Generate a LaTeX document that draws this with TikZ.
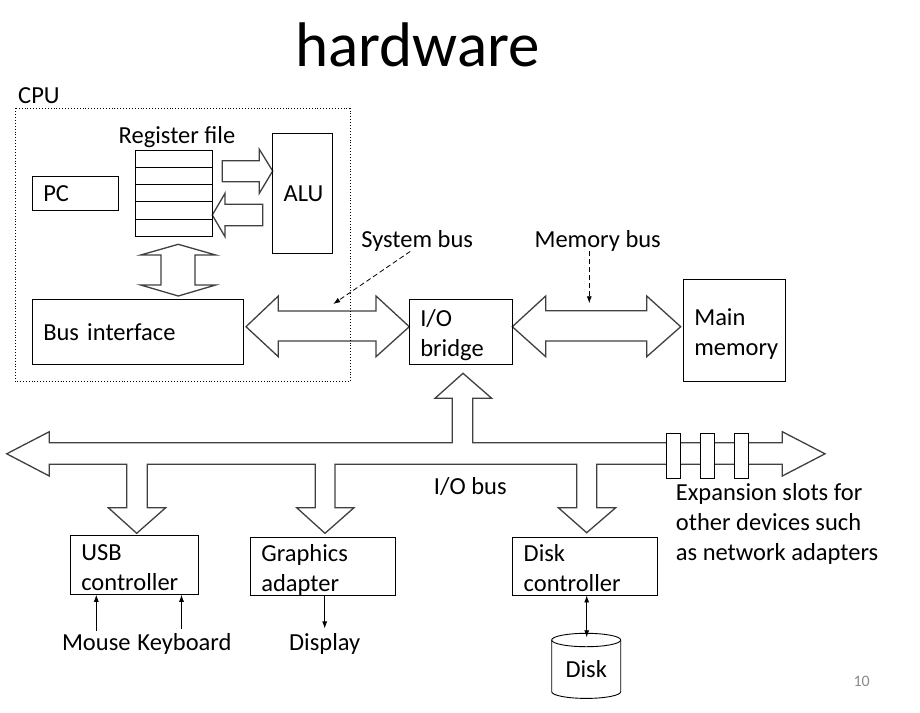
\documentclass[tikz,border=0pt]{standalone}
\usepackage{fontspec}
\setmainfont{Carlito}
\usetikzlibrary{arrows.meta,calc}

\definecolor{busgray}{RGB}{64,64,64}
\definecolor{pagegray}{RGB}{140,140,140}

\tikzset{
	box/.style={draw, line width=0.9pt, inner xsep=11pt, inner ysep=0pt, align=left},
	twoline/.style={text height=20pt, text depth=30pt},
	bus/.style={draw=busgray, line width=1.3pt, fill=white, line join=miter},
	slot/.style={draw, line width=0.9pt, fill=white, minimum width=14pt, minimum height=45pt, inner sep=0pt},
	lbl/.style={inner sep=0pt},
	hint/.style={dash pattern=on 5pt off 3pt, line width=0.8pt, -{Latex[length=7pt,width=5pt]}},
	wire/.style={line width=0.8pt, -{Latex[length=7pt,width=5pt]}},
}

\begin{document}
\begin{tikzpicture}[x=1pt, y=-1pt, font=\fontsize{24.5}{30}\selectfont]
	\fill[white] (0,0) rectangle (920,712);
	\useasboundingbox (0,0) rectangle (920,712);

	\node[lbl, anchor=base, font=\fontsize{63}{76}\selectfont] (title) at (417.5,66) {hardware};

	% fat buses first, boxes on top
	\draw[bus] (222.3,160.7) -- (259.3,160.7) -- (259.3,149.3) -- (272.7,171) -- (259.3,193.3) -- (259.3,181.7) -- (222.3,181.7) -- cycle;
	\draw[bus] (262.7,204.3) -- (225,204.3) -- (225,193.3) -- (212.3,215) -- (225,236.7) -- (225,225.7) -- (262.7,225.7) -- cycle;
	\draw[bus] (178.3,244.3) -- (215.7,255) -- (195,255) -- (195,285) -- (215.7,285) -- (178.3,296) -- (140.7,285) -- (161,285) -- (161,255) -- (140.7,255) -- cycle;
	\draw[bus] (246,326.7) -- (278.3,296) -- (278.3,311) -- (376,311) -- (376,296) -- (409.3,326.7) -- (376,356.7) -- (376,341) -- (278.3,341) -- (278.3,356.7) -- cycle;
	\draw[bus] (512.3,326.7) -- (545.7,296) -- (545.7,310.7) -- (646.7,310.7) -- (646.7,296) -- (680.7,326.7) -- (646.7,356.7) -- (646.7,341) -- (545.7,341) -- (545.7,356.7) -- cycle;
	\draw[bus] (6.7,453.8) -- (49.3,431.7) -- (49.3,442.7) -- (452.3,442.7) -- (452.3,398.3) -- (435,398.3) -- (463,373.3) -- (491.7,398.3) -- (472.7,398.3) -- (472.7,442.7)
		-- (782.3,442.7) -- (782.3,431.7) -- (825,453.8) -- (782.3,476) -- (782.3,464.3)
		-- (596.7,464.3) -- (596.7,507.7) -- (615.7,507.7) -- (586.7,532.7) -- (558.3,507.7) -- (576.7,507.7) -- (576.7,464.3)
		-- (335,464.3) -- (335,507.7) -- (354,507.7) -- (325,533.3) -- (296.7,507.7) -- (315.3,507.7) -- (315.3,464.3)
		-- (147.3,464.3) -- (147.3,507.7) -- (165.7,507.7) -- (136.7,533.3) -- (108.3,507.7) -- (126.7,507.7) -- (126.7,464.3)
		-- (49.3,464.3) -- (49.3,476) -- cycle;
	\foreach \n/\x in {1/673.7, 2/707.5, 3/741.5}
		\node[slot] (slot\n) at (\x,455.8) {};

	% CPU
	\node[lbl, anchor=base west] (cpu) at (18,103) {CPU};
	\draw[dotted, line width=0.9pt] (15,108.3) rectangle (350,381.7);
	\node[box, text width=64pt, minimum height=33.3pt] (pc) at (75.3,193.3) {PC};
	\node[draw, line width=0.9pt, minimum width=77.3pt, minimum height=85.3pt] (regfile) at (173.7,193.3) {};
	\foreach \k in {1,...,4}
		\draw[line width=0.9pt] ($(regfile.north west)!\k/5!(regfile.south west)$) -- ($(regfile.north east)!\k/5!(regfile.south east)$);
	\node[lbl, anchor=base] (regtitle) at (177,143.3) {Register file};
	\node[box, align=center, text width=37.6pt, minimum height=120pt] (alu) at (302.5,193.3) {ALU};
	\node[box, text width=189pt, minimum height=64.7pt] (busif) at (137.8,331.7) {Bus interface};

	\node[box, twoline, text width=81pt, minimum height=65pt] (bridge) at (460.8,331.8) {I/O\\bridge};
	\node[box, twoline, text width=80.4pt, minimum height=102.4pt] (mainmem) at (734.5,330.5) {Main\\\mbox{memory}};

	% devices
	\node[box, twoline, text width=106.4pt, minimum height=58.6pt] (usb) at (134.5,565) {USB\\controller};
	\node[box, twoline, text width=123.4pt, minimum height=58pt] (graphics) at (323,566.7) {Graphics\\adapter};
	\node[box, twoline, text width=122.6pt, minimum height=57.3pt] (diskctl) at (585,566.3) {Disk\\controller};

	\node[lbl, anchor=base] (sysbus) at (417.2,247.3) {System bus};
	\node[lbl, anchor=base] (membus) at (597.7,247.3) {Memory bus};
	\node[lbl, anchor=base] (iobus) at (470.3,494.3) {I/O bus};
	\node[lbl, anchor=west, align=left] (slots) at (675.7,523.8) {Expansion slots for\\other devices such\\as network adapters};
	\node[lbl, anchor=base] (mouse) at (96.3,650.7) {Mouse};
	\node[lbl, anchor=base] (keyboard) at (184.5,650.7) {Keyboard};
	\node[lbl, anchor=base] (display) at (324.7,650.7) {Display};
	\node[lbl, anchor=base] (disk) at (586.2,677.7) {Disk};
	\node[lbl, anchor=base, text=pagegray, font=\fontsize{16}{19}\selectfont] (pagenum) at (861.7,686.7) {10};

	\coordinate (sysbustip) at (333.3,304);
	\coordinate (membustip) at (589.3,303.3);
	\draw[hint] ([xshift=-7pt]sysbus.south) -- (sysbustip);
	\draw[hint] (membus.south -| membustip) -- (membustip);

	\coordinate (kbfoot) at ([xshift=-3pt,yshift=4pt]keyboard.north);
	\draw[wire] ([yshift=4pt]mouse.north) -- (mouse.north |- usb.south);
	\draw[wire] (kbfoot) -- (kbfoot |- usb.south);
	\draw[wire] (graphics.south -| display.north) -- ([yshift=5pt]display.north);

	% disk
	\coordinate (disktop) at (586.7,637.3);
	\draw[line width=0.9pt] (586.2,640) ellipse [x radius=34.5pt, y radius=6.7pt];
	\draw[line width=0.9pt] (551.7,640) -- (551.7,691.7) arc[start angle=180, end angle=360, x radius=34.5pt, y radius=6.7pt] -- (620.7,640);
	\draw[line width=0.8pt, {Latex[length=7pt,width=5pt]}-{Latex[length=7pt,width=5pt]}] (diskctl.south -| disktop) -- (disktop);
\end{tikzpicture}
\end{document}
